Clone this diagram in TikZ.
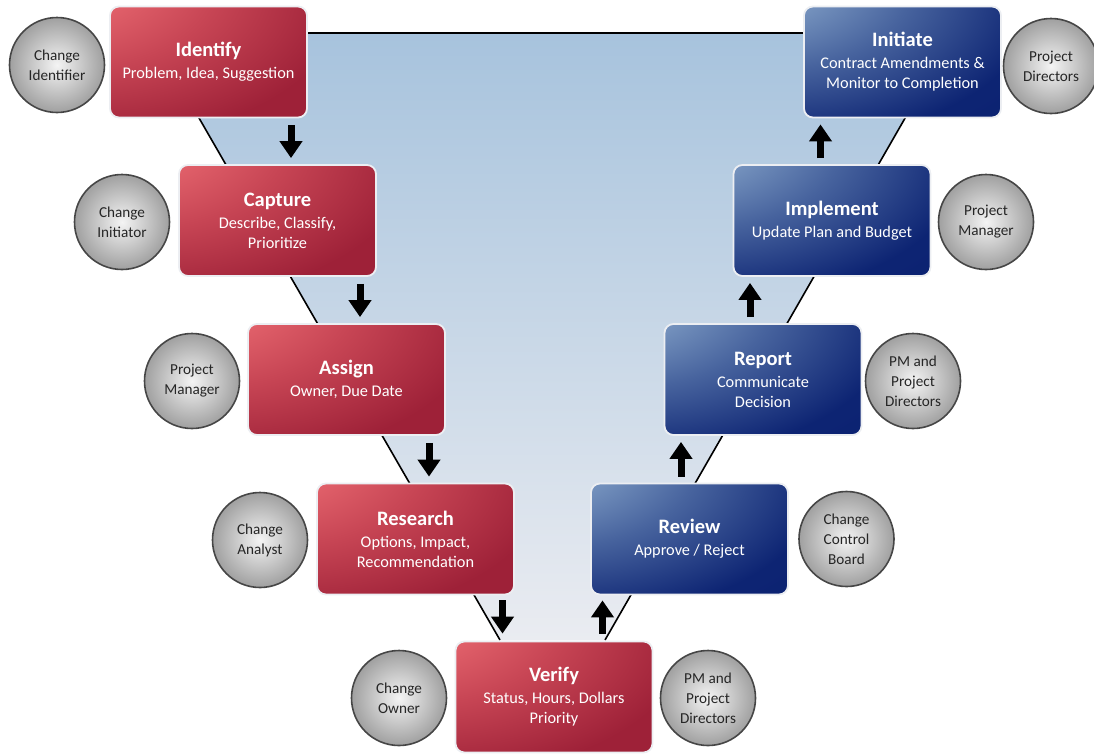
\documentclass[tikz,border=0pt]{standalone}
\usepackage{fontspec}
\setmainfont{Carlito}
\usetikzlibrary{arrows.meta,calc}
\definecolor{vtop}{RGB}{167,195,221}
\definecolor{vbottom}{RGB}{234,236,241}
\definecolor{boxborder}{RGB}{236,238,242}
\definecolor{circborder}{RGB}{70,70,70}
\definecolor{circin}{RGB}{244,244,244}
\definecolor{circout}{RGB}{160,160,160}
\pgfdeclareradialshading{redshade}{\pgfpoint{-48bp}{46bp}}{rgb(0bp)=(0.98,0.49,0.50); rgb(10bp)=(0.96,0.46,0.48); rgb(38bp)=(0.78,0.27,0.33); rgb(62bp)=(0.62,0.13,0.22); rgb(150bp)=(0.60,0.11,0.20)}
\pgfdeclareradialshading{blueshade}{\pgfpoint{-48bp}{46bp}}{rgb(0bp)=(0.66,0.78,0.88); rgb(10bp)=(0.60,0.72,0.84); rgb(38bp)=(0.28,0.39,0.62); rgb(62bp)=(0.05,0.14,0.45); rgb(150bp)=(0.03,0.12,0.43)}
\newcommand{\stitle}[1]{{\fontsize{20.5}{24}\selectfont\bfseries #1}}
\tikzset{
  stage/.style={rectangle, rounded corners=9pt, minimum width=197pt, minimum height=111pt,
    inner sep=0pt, draw=boxborder, line width=1.8pt, text=white, align=center,
    font=\fontsize{16.3}{20}\selectfont},
  redstage/.style={stage, shade, shading=redshade},
  bluestage/.style={stage, shade, shading=blueshade},
  role/.style={circle, minimum size=95pt, inner sep=0pt, draw=circborder, line width=1.6pt,
    inner color=circin, outer color=circout, align=center, text=black!85,
    font=\fontsize{15.2}{20}\selectfont},
  flow/.style={line width=7pt, -{Triangle[width=22pt,length=17pt]}}
}
\begin{document}
\begin{tikzpicture}[x=1pt,y=-1pt]
\useasboundingbox (0,0) rectangle (1094,753);
% background V
\shade[top color=vtop, bottom color=vbottom] (150,33) -- (954,33) -- (605,640) -- (500,640) -- cycle;
\draw[line width=1.6pt, line join=miter] (500,640) -- (150,33) -- (954,33) -- (605,640);

% stages
\node[redstage] (identify) at (208.5,62) {\stitle{Identify}\\[2pt] Problem, Idea, Suggestion};
\node[redstage] (capture) at (277.5,220.5) {\stitle{Capture}\\[2pt] Describe, Classify,\\ Prioritize};
\node[redstage] (assign) at (346.5,379.5) {\stitle{Assign}\\[2pt] Owner, Due Date};
\node[redstage] (research) at (415.5,539) {\stitle{Research}\\[2pt] Options, Impact,\\ Recommendation};
\node[redstage] (verify) at (554,697) {\stitle{Verify}\\[2pt] Status, Hours, Dollars\\ Priority};
\node[bluestage] (review) at (689.5,539) {\stitle{Review}\\[2pt] Approve / Reject};
\node[bluestage] (report) at (763,379.5) {\stitle{Report}\\[2pt] Communicate\\ Decision};
\node[bluestage] (implement) at (832,220.5) {\stitle{Implement}\\[2pt] Update Plan and Budget};
\node[bluestage] (initiate) at (902.5,62) {\stitle{Initiate}\\[2pt] Contract Amendments \&\\ Monitor to Completion};

% roles
\node[role] (r1) at (57,65) {Change\\ Identifier};
\node[role] (r2) at (122,222) {Change\\ Initiator};
\node[role] (r3) at (192,381) {Project\\ Manager};
\node[role] (r4) at (260,540) {Change\\ Analyst};
\node[role] (r5) at (399,698) {Change\\ Owner};
\node[role] (r6) at (708,698) {PM and\\ Project\\ Directors};
\node[role] (r7) at (846.5,539) {Change\\ Control\\ Board};
\node[role] (r8) at (913,381) {PM and\\ Project\\ Directors};
\node[role] (r9) at (986,222) {Project\\ Manager};
\node[role] (r10) at (1051,66) {Project\\ Directors};

% arrows
\draw[flow, shorten <=7pt, shorten >=6pt] ($(identify.south -| capture.north)+(13.5,0)$) -- ($(capture.north)+(13.5,0)$);
\draw[flow, shorten <=7pt, shorten >=6pt] ($(capture.south -| assign.north)+(13.5,0)$) -- ($(assign.north)+(13.5,0)$);
\draw[flow, shorten <=7pt, shorten >=6pt] ($(assign.south -| research.north)+(13.5,0)$) -- ($(research.north)+(13.5,0)$);
\draw[flow, shorten <=5pt, shorten >=7pt] ($(research.south)+(87,0)$) -- ($(verify.north -| research.south)+(87,0)$);
\draw[flow, shorten <=7pt, shorten >=5pt] ($(verify.north -| review.south)+(-87,0)$) -- ($(review.south)+(-87,0)$);
\draw[flow, shorten <=6pt, shorten >=6pt] ($(review.north)+(-8.5,0)$) -- ($(report.south -| review.north)+(-8.5,0)$);
\draw[flow, shorten <=6pt, shorten >=6pt] ($(report.north)+(-13,0)$) -- ($(implement.south -| report.north)+(-13,0)$);
\draw[flow, shorten <=6pt, shorten >=6pt] ($(implement.north)+(-11.5,0)$) -- ($(initiate.south -| implement.north)+(-11.5,0)$);
\end{tikzpicture}
\end{document}
